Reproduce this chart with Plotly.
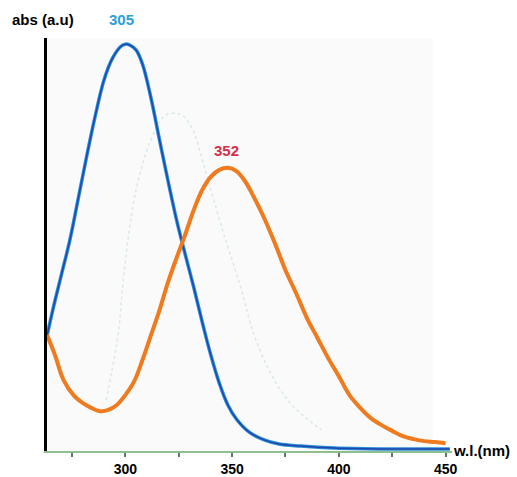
import plotly.graph_objects as go

# Blue spectrum (peak labelled 305)
blue_wl = [263.3, 266, 270, 274, 278, 282, 286, 290, 294, 298, 300, 302, 305, 308, 312, 316,
           320, 324, 328, 332, 336, 340, 344, 348, 352, 358, 365, 372, 382, 398, 420, 452]
blue_abs = [0.28, 0.343, 0.428, 0.513, 0.616, 0.72, 0.818, 0.903, 0.956, 0.985, 0.99, 0.988,
            0.976, 0.942, 0.859, 0.757, 0.657, 0.562, 0.479, 0.399, 0.314, 0.234, 0.165,
            0.112, 0.078, 0.046, 0.027, 0.017, 0.012, 0.007, 0.005, 0.005]

# Orange spectrum (peak labelled 352)
orange_wl = [263.3, 267, 271, 276, 280, 284, 288, 292, 296, 300, 304, 308, 312, 316, 320, 324,
             328, 332, 336, 340, 344, 348, 352, 356, 360, 365, 370, 375, 380, 385, 390, 395,
             400, 405, 410, 415, 420, 425, 430, 435, 440, 445, 450]
orange_abs = [0.282, 0.234, 0.173, 0.134, 0.117, 0.105, 0.097, 0.1, 0.112, 0.136, 0.168, 0.221,
              0.282, 0.343, 0.411, 0.47, 0.526, 0.586, 0.635, 0.667, 0.684, 0.689, 0.681, 0.657,
              0.62, 0.567, 0.506, 0.44, 0.384, 0.324, 0.275, 0.226, 0.182, 0.136, 0.105, 0.08,
              0.063, 0.049, 0.036, 0.029, 0.024, 0.022, 0.019]

# Faint background trace visible in the scan
faint_wl = [291, 293.5, 296.7, 299.5, 305, 312, 319, 326, 331, 338, 346, 354, 360, 368, 378, 392]
faint_abs = [0.124, 0.19, 0.287, 0.44, 0.635, 0.757, 0.818, 0.818, 0.788, 0.672, 0.53, 0.399,
             0.287, 0.19, 0.112, 0.051]

tick_vals = [275, 300, 325, 350, 375, 400, 425, 450]
tick_text = ["", "300", "", "350", "", "400", "", "450"]

FONT = "Arial, Liberation Sans, sans-serif"

fig = go.Figure()
fig.add_trace(go.Scatter(x=faint_wl, y=faint_abs, mode="lines",
                         line=dict(color="rgba(170,210,200,0.4)", width=1.5, dash="dot",
                                   shape="spline"), hoverinfo="skip"))
fig.add_trace(go.Scatter(x=blue_wl, y=blue_abs, mode="lines",
                         line=dict(color="#2a8fd6", width=3.5, shape="spline")))
fig.add_trace(go.Scatter(x=blue_wl, y=blue_abs, mode="lines",
                         line=dict(color="rgba(28,45,160,0.75)", width=1.5, shape="spline")))
fig.add_trace(go.Scatter(x=orange_wl, y=orange_abs, mode="lines",
                         line=dict(color="#f07a1e", width=4, shape="spline")))

fig.add_shape(type="rect", xref="x", yref="y", x0=263.3, x1=444, y0=0, y1=1.05,
              fillcolor="#f9faf9", line=dict(width=0), layer="below")

anno_font = dict(family=FONT, size=15)
fig.add_annotation(xref="paper", yref="paper", x=-0.01, y=1.044, text="<b>abs (a.u)</b>",
                   xanchor="center", yanchor="middle",
                   showarrow=False, font=dict(anno_font, color="black"))
fig.add_annotation(xref="paper", yref="paper", x=0.185, y=1.044, text="<b>305</b>",
                   xanchor="center", yanchor="middle",
                   showarrow=False, font=dict(anno_font, color="#2aa0dc"))
fig.add_annotation(x=347.5, y=0.732, text="<b>352</b>", showarrow=False,
                   xanchor="center", yanchor="middle",
                   font=dict(anno_font, color="#d4304a"))
fig.add_annotation(xref="paper", yref="paper", x=1.074, y=0.002, text="<b>w.l.(nm)</b>",
                   xanchor="center", yanchor="middle",
                   showarrow=False, font=dict(anno_font, color="black"))

fig.update_layout(
    width=517, height=477,
    margin=dict(l=47, r=65, t=38, b=26),
    paper_bgcolor="white", plot_bgcolor="white",
    showlegend=False,
    xaxis=dict(range=[263.3, 453], showgrid=False, zeroline=False, automargin=False,
               showline=True, linecolor="#8fbf8f", linewidth=1.5,
               tickmode="array", tickvals=tick_vals, ticktext=tick_text,
               ticks="outside", ticklen=4, tickwidth=1.5, tickcolor="#5d7a5d",
               tickfont=dict(family=FONT, size=14, color="black", weight="bold"),
               ticklabelstandoff=0),
    yaxis=dict(range=[0, 1.005], showgrid=False, zeroline=False, automargin=False,
               showline=True, linecolor="black", linewidth=2.5,
               showticklabels=False, ticks=""),
)

fig.write_html("out.html")
